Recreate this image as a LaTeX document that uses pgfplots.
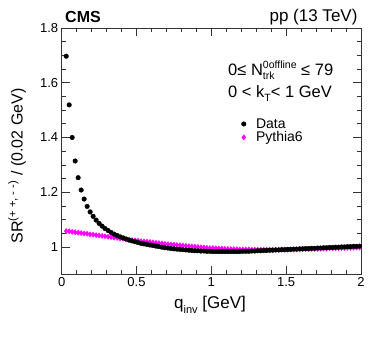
\documentclass[border=0pt]{standalone}
\usepackage{pgfplots}
\pgfplotsset{compat=1.18}
\usepackage{fontspec}
\setmainfont{Liberation Sans}
\definecolor{pyth}{HTML}{FF00FF}

\pgfplotstableread{
q y
0.03 1.697
0.05 1.519
0.07 1.400
0.09 1.314
0.11 1.253
0.13 1.208
0.15 1.175
0.17 1.148
0.19 1.128
0.21 1.112
0.23 1.098
0.25 1.086
0.27 1.076
0.29 1.067
0.31 1.060
0.33 1.053
0.35 1.047
0.37 1.042
0.39 1.037
0.41 1.033
0.43 1.029
0.45 1.025
0.47 1.022
0.49 1.019
0.51 1.016
0.53 1.013
0.55 1.011
0.57 1.009
0.59 1.007
0.61 1.005
0.63 1.003
0.65 1.001
0.67 0.999
0.69 0.997
0.71 0.996
0.73 0.994
0.75 0.993
0.77 0.992
0.79 0.991
0.81 0.990
0.83 0.989
0.85 0.988
0.87 0.987
0.89 0.986
0.91 0.986
0.93 0.985
0.95 0.985
0.97 0.984
0.99 0.984
1.01 0.983
1.03 0.983
1.05 0.983
1.07 0.983
1.09 0.983
1.11 0.983
1.13 0.983
1.15 0.983
1.17 0.983
1.19 0.983
1.21 0.984
1.23 0.984
1.25 0.984
1.27 0.985
1.29 0.985
1.31 0.986
1.33 0.986
1.35 0.987
1.37 0.987
1.39 0.988
1.41 0.988
1.43 0.989
1.45 0.989
1.47 0.990
1.49 0.990
1.51 0.991
1.53 0.991
1.55 0.992
1.57 0.992
1.59 0.993
1.61 0.993
1.63 0.994
1.65 0.994
1.67 0.995
1.69 0.995
1.71 0.996
1.73 0.996
1.75 0.997
1.77 0.997
1.79 0.998
1.81 0.998
1.83 0.999
1.85 0.999
1.87 1.000
1.89 1.000
1.91 1.001
1.93 1.001
1.95 1.002
1.97 1.002
1.99 1.003
}\datatab

\pgfplotstableread{
q y
0.03 1.058
0.05 1.057
0.07 1.055
0.09 1.054
0.11 1.052
0.13 1.051
0.15 1.049
0.17 1.048
0.19 1.046
0.21 1.045
0.23 1.043
0.25 1.042
0.27 1.040
0.29 1.039
0.31 1.037
0.33 1.036
0.35 1.034
0.37 1.033
0.39 1.031
0.41 1.030
0.43 1.028
0.45 1.027
0.47 1.025
0.49 1.024
0.51 1.023
0.53 1.021
0.55 1.020
0.57 1.019
0.59 1.018
0.61 1.017
0.63 1.015
0.65 1.014
0.67 1.013
0.69 1.011
0.71 1.010
0.73 1.009
0.75 1.008
0.77 1.007
0.79 1.006
0.81 1.005
0.83 1.004
0.85 1.003
0.87 1.002
0.89 1.001
0.91 1.000
0.93 0.999
0.95 0.998
0.97 0.997
0.99 0.996
1.01 0.996
1.03 0.995
1.05 0.994
1.07 0.994
1.09 0.993
1.11 0.993
1.13 0.992
1.15 0.992
1.17 0.992
1.19 0.991
1.21 0.991
1.23 0.991
1.25 0.991
1.27 0.990
1.29 0.990
1.31 0.990
1.33 0.990
1.35 0.990
1.37 0.990
1.39 0.990
1.41 0.990
1.43 0.990
1.45 0.990
1.47 0.990
1.49 0.990
1.51 0.990
1.53 0.991
1.55 0.991
1.57 0.991
1.59 0.991
1.61 0.992
1.63 0.992
1.65 0.992
1.67 0.993
1.69 0.993
1.71 0.993
1.73 0.994
1.75 0.994
1.77 0.994
1.79 0.995
1.81 0.995
1.83 0.995
1.85 0.996
1.87 0.996
1.89 0.996
1.91 0.997
1.93 0.997
1.95 0.997
1.97 0.998
1.99 0.998
}\pythiatab

\begin{document}
\begin{tikzpicture}
\useasboundingbox (-61.7pt,-63.7pt) rectangle (312.3pt,274.3pt);
\begin{axis}[at={(0,0)},anchor=south west,scale only axis,
 width=299.3pt,height=246.3pt,
 xmin=0,xmax=2,ymin=0.9,ymax=1.8,
 xtick={0,0.5,1,1.5,2},ytick={1,1.2,1.4,1.6,1.8},
 minor x tick num=4,minor y tick num=3,
 tick align=inside,major tick length=8pt,minor tick length=4pt,
 axis line style={black!80,line width=0.6pt},
 every tick/.style={black!80,line width=0.6pt},
 /pgf/number format/assume math mode=true,
 tick label style={font=\fontsize{13}{15}\selectfont},
 legend style={draw=none,fill=none,at={(rel axis cs:0.59,0.65)},anchor=north west,
   font=\fontsize{14}{16}\selectfont,row sep=-2pt,column sep=8pt},
 legend cell align=left,reverse legend,
 clip=false]
 \addplot[only marks,mark=diamond*,mark size=2.6pt,pyth] table[x=q,y=y]{\pythiatab};
 \addlegendentry{Pythia6}
 \addplot[only marks,mark=*,mark size=2.3pt,black] table[x=q,y=y]{\datatab};
 \addlegendentry{Data}
\end{axis}
\node[anchor=west,font=\fontsize{16}{16}\selectfont\bfseries] at (0pt,257.3pt) {CMS};
\node[anchor=east,font=\fontsize{17}{17}\selectfont] at (299.3pt,257.3pt) {pp (13 TeV)};
\node[anchor=west,font=\fontsize{16.5}{16.5}\selectfont] at (163pt,204pt) {0≤ N{\fontsize{10.5}{10.5}\selectfont\rlap{\raisebox{-0.8ex}{trk}}\raisebox{1.2ex}{0offline}} ≤ 79};
\node[anchor=west,font=\fontsize{16.5}{16.5}\selectfont] at (163pt,181pt) {0 < k\raisebox{-0.5ex}{\fontsize{10.5}{10.5}\selectfont T}< 1 GeV};
\node[font=\fontsize{17}{17}\selectfont] at (148.3pt,-30.7pt) {q\raisebox{-0.6ex}{\fontsize{11}{11}\selectfont inv} [GeV]};
\node[rotate=90,font=\fontsize{16}{16}\selectfont] at (-44.7pt,108.3pt) {SR\textsuperscript{(+ +, - -)} / (0.02 GeV)};
\end{tikzpicture}
\end{document}
